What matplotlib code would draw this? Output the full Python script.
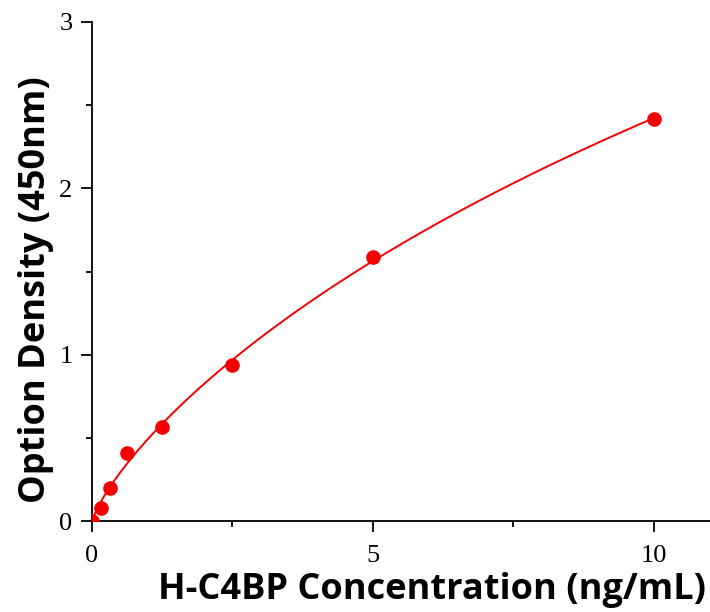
import numpy as np
import matplotlib.pyplot as plt
from matplotlib.ticker import MultipleLocator

# standard curve readings
conc = np.array([0, 0.156, 0.3125, 0.625, 1.25, 2.5, 5, 10])
od = np.array([0.0, 0.078, 0.198, 0.409, 0.565, 0.938, 1.587, 2.417])

x_ticks = [0, 5, 10]
y_ticks = [0, 1, 2, 3]


# 4PL fit: grid over b and c, a and d solved by least squares
def fit_4pl(x, y):
    best = None
    for b in np.linspace(0.3, 2.0, 86):
        for c in np.logspace(0, 3, 150):
            g = 1.0 / (1.0 + (x / c) ** b)
            A = np.column_stack([g, 1 - g])
            coef, *_ = np.linalg.lstsq(A, y, rcond=None)
            err = np.sum((A @ coef - y) ** 2)
            if best is None or err < best[0]:
                best = (err, coef[0], b, c, coef[1])
    return best[1:]


a, b, c, d = fit_4pl(conc, od)
xs = np.linspace(0, conc.max(), 400)
ys = d + (a - d) / (1 + (xs / c) ** b)

fig = plt.figure(figsize=(7.1, 6.12), dpi=100)
ax = fig.add_axes([92 / 710, 1 - 521 / 612, 1 - 92 / 710, (521 - 22) / 612])

ax.plot(xs, ys, color="#f50000", lw=1.4, zorder=2)
ax.plot(conc, od, "o", color="#f50000", ms=9.5, zorder=3)

ax.set_xlim(0, 11)
ax.set_ylim(0, 3)
ax.set_xticks(x_ticks)
ax.set_yticks(y_ticks)
ax.xaxis.set_minor_locator(MultipleLocator(2.5))
ax.yaxis.set_minor_locator(MultipleLocator(0.5))

for s in ["top", "right"]:
    ax.spines[s].set_visible(False)
for s in ["left", "bottom"]:
    ax.spines[s].set_linewidth(1.3)
ax.tick_params(which="major", direction="out", length=8, width=1.3)
ax.tick_params(which="minor", direction="out", length=4.5, width=1.3)
ax.tick_params(axis="x", labelsize=19, pad=9)
ax.tick_params(axis="y", labelsize=19, pad=6)
for lab in ax.get_xticklabels() + ax.get_yticklabels():
    lab.set_fontfamily("Liberation Serif")

fig.text(432 / 710, 1 - 590 / 612, "H-C4BP Concentration (ng/mL)",
         ha="center", va="center", fontsize=26, fontweight="bold",
         fontfamily="Open Sans")
fig.text(36 / 710, 1 - 290 / 612, "Option Density (450nm)",
         ha="center", va="center", rotation=90, fontsize=26,
         fontweight="bold", fontfamily="Open Sans")

plt.savefig("out.png", dpi=100)
